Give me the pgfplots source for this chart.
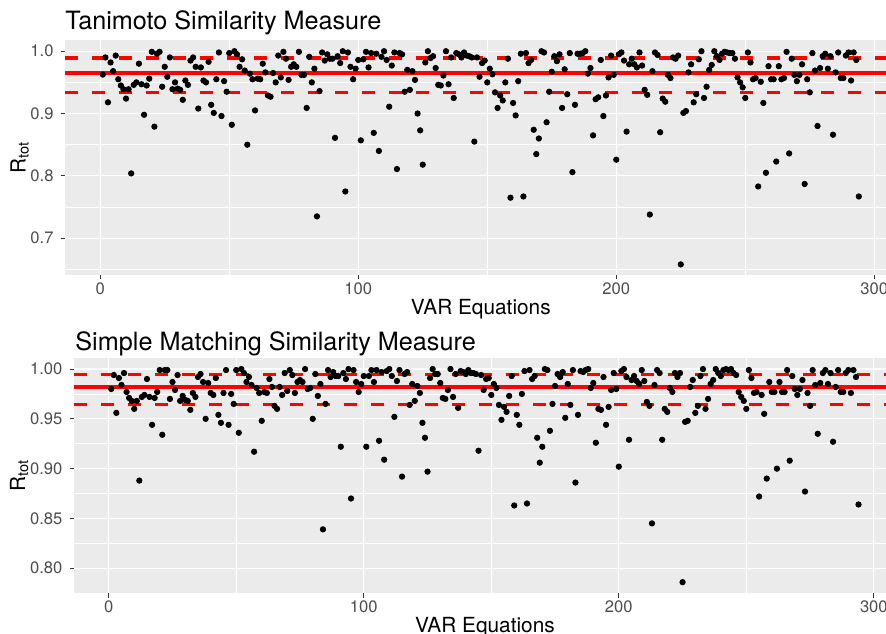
\documentclass[border=0pt]{standalone}
\usepackage{fontspec}
\setmainfont{TeX Gyre Heros}
\usepackage{pgfplots}
\usepackage{pgfplotstable}
\pgfplotsset{compat=1.18}

\definecolor{panelbg}{HTML}{EBEBEB}
\definecolor{ticklab}{HTML}{4D4D4D}
\definecolor{tickcol}{HTML}{333333}

% R_tot per VAR equation, Tanimoto measure
\pgfplotstableread[row sep=\\]{
x y\\
1 0.9625\\ 2 0.990\\ 3 0.918\\ 4 0.982\\ 5 0.968\\ 6 0.993\\ 7 0.955\\ 8 0.945\\ 9 0.939\\ 10 0.924\\
11 0.939\\ 12 0.804\\ 13 0.946\\ 14 0.950\\ 15 0.980\\ 16 0.947\\ 17 0.898\\ 18 0.945\\ 19 0.956\\ 20 0.999\\
21 0.879\\ 22 0.996\\ 23 0.999\\ 24 0.943\\ 25 0.975\\ 26 0.959\\ 27 0.990\\ 28 0.939\\ 29 0.950\\ 30 0.940\\
31 0.938\\ 32 0.922\\ 33 0.953\\ 34 0.946\\ 35 0.985\\ 36 0.990\\ 37 0.975\\ 38 0.908\\ 39 0.974\\ 40 0.953\\
41 0.950\\ 42 0.983\\ 43 0.914\\ 44 0.901\\ 45 0.955\\ 46 0.998\\ 47 0.896\\ 48 0.952\\ 49 0.935\\ 50 0.997\\
51 0.882\\ 52 1.000\\ 53 0.995\\ 54 0.975\\ 55 0.987\\ 56 0.969\\ 57 0.850\\ 58 0.964\\ 59 0.955\\ 60 0.905\\
61 0.956\\ 62 0.955\\ 63 0.980\\ 64 0.966\\ 65 0.929\\ 66 0.927\\ 67 0.965\\ 68 0.950\\ 69 0.993\\ 70 0.958\\
71 0.999\\ 72 0.988\\ 73 0.954\\ 74 0.975\\ 75 0.979\\ 76 0.975\\ 77 0.999\\ 78 0.962\\ 79 0.962\\ 80 0.909\\
81 0.991\\ 82 0.950\\ 83 0.972\\ 84 0.735\\ 85 0.936\\ 86 0.998\\ 87 0.985\\ 88 0.995\\ 89 0.988\\ 90 0.988\\
91 0.861\\ 92 0.992\\ 93 0.981\\ 94 1.000\\ 95 0.775\\ 96 0.998\\ 97 0.975\\ 98 0.955\\ 99 0.972\\ 100 0.986\\
101 0.857\\ 102 0.987\\ 103 0.999\\ 104 0.974\\ 105 0.997\\ 106 0.869\\ 107 0.996\\ 108 0.840\\ 109 0.991\\ 110 1.000\\
111 0.986\\ 112 0.911\\ 113 0.977\\ 114 0.998\\ 115 0.811\\ 116 0.997\\ 117 0.995\\ 118 0.935\\ 119 0.970\\ 120 0.938\\
121 0.968\\ 122 0.954\\ 123 0.900\\ 124 0.873\\ 125 0.818\\ 126 0.982\\ 127 1.000\\ 128 0.989\\ 129 0.992\\ 130 0.973\\
131 0.946\\ 132 0.945\\ 133 0.961\\ 134 1.000\\ 135 0.947\\ 136 0.990\\ 137 0.925\\ 138 0.997\\ 139 0.995\\ 140 0.990\\
141 0.998\\ 142 0.993\\ 143 0.992\\ 144 0.990\\ 145 0.855\\ 146 0.990\\ 147 0.959\\ 148 0.981\\ 149 0.985\\ 150 0.950\\
151 0.972\\ 152 0.963\\ 153 0.934\\ 154 0.909\\ 155 0.929\\ 156 0.921\\ 157 0.950\\ 158 0.988\\ 159 0.765\\ 160 0.917\\
161 0.897\\ 162 0.952\\ 163 0.996\\ 164 0.767\\ 165 0.997\\ 166 0.981\\ 167 0.986\\ 168 0.874\\ 169 0.835\\ 170 0.860\\
171 1.000\\ 172 0.998\\ 173 0.886\\ 174 0.935\\ 175 0.967\\ 176 0.992\\ 177 0.984\\ 178 0.995\\ 179 0.909\\ 180 0.971\\
181 0.931\\ 182 0.997\\ 183 0.806\\ 184 0.914\\ 185 0.996\\ 186 0.996\\ 187 0.997\\ 188 1.000\\ 189 0.964\\ 190 0.973\\
191 0.865\\ 192 0.923\\ 193 0.926\\ 194 0.986\\ 195 0.896\\ 196 0.929\\ 197 0.958\\ 198 0.993\\ 199 0.962\\ 200 0.826\\
201 0.995\\ 202 0.998\\ 203 0.985\\ 204 0.871\\ 205 0.979\\ 206 0.988\\ 207 0.979\\ 208 0.974\\ 209 0.998\\ 210 0.977\\
211 0.938\\ 212 0.930\\ 213 0.738\\ 214 0.968\\ 215 0.998\\ 216 0.994\\ 217 0.870\\ 218 0.924\\ 219 0.919\\ 220 0.962\\
221 0.957\\ 222 0.990\\ 223 0.988\\ 224 0.993\\ 225 0.658\\ 226 0.901\\ 227 0.904\\ 228 0.966\\ 229 0.979\\ 230 0.918\\
231 0.931\\ 232 0.987\\ 233 1.000\\ 234 0.925\\ 235 0.943\\ 236 0.970\\ 237 0.978\\ 238 1.000\\ 239 0.992\\ 240 0.986\\
241 0.996\\ 242 0.999\\ 243 0.998\\ 244 0.997\\ 245 0.997\\ 246 0.988\\ 247 0.958\\ 248 0.950\\ 249 0.942\\ 250 0.925\\
251 0.998\\ 252 0.982\\ 253 0.955\\ 254 0.957\\ 255 0.783\\ 256 0.951\\ 257 0.917\\ 258 0.805\\ 259 0.976\\ 260 0.955\\
261 0.955\\ 262 0.823\\ 263 0.976\\ 264 0.955\\ 265 0.957\\ 266 0.999\\ 267 0.836\\ 268 0.988\\ 269 0.962\\ 270 0.952\\
271 0.962\\ 272 0.979\\ 273 0.787\\ 274 0.955\\ 275 0.934\\ 276 0.997\\ 277 0.969\\ 278 0.880\\ 279 0.973\\ 280 0.992\\
281 0.996\\ 282 0.972\\ 283 0.992\\ 284 0.866\\ 285 0.966\\ 286 0.998\\ 287 0.957\\ 288 0.957\\ 289 0.993\\ 290 0.998\\
291 0.953\\ 292 0.998\\ 293 0.986\\ 294 0.767\\
}\tanimoto

% R_tot per VAR equation, simple matching measure
\pgfplotstableread[row sep=\\]{
x y\\
1 0.980\\ 2 0.994\\ 3 0.956\\ 4 0.991\\ 5 0.984\\ 6 0.996\\ 7 0.977\\ 8 0.971\\ 9 0.968\\ 10 0.960\\
11 0.968\\ 12 0.888\\ 13 0.972\\ 14 0.974\\ 15 0.990\\ 16 0.972\\ 17 0.944\\ 18 0.971\\ 19 0.977\\ 20 0.999\\
21 0.934\\ 22 0.999\\ 23 0.999\\ 24 0.970\\ 25 0.987\\ 26 0.979\\ 27 0.994\\ 28 0.968\\ 29 0.973\\ 30 0.969\\
31 0.968\\ 32 0.959\\ 33 0.976\\ 34 0.972\\ 35 0.992\\ 36 0.995\\ 37 0.987\\ 38 0.950\\ 39 0.986\\ 40 0.976\\
41 0.974\\ 42 0.991\\ 43 0.954\\ 44 0.946\\ 45 0.976\\ 46 0.999\\ 47 0.944\\ 48 0.975\\ 49 0.965\\ 50 0.999\\
51 0.936\\ 52 1.000\\ 53 0.996\\ 54 0.987\\ 55 0.992\\ 56 0.984\\ 57 0.917\\ 58 0.981\\ 59 0.976\\ 60 0.948\\
61 0.977\\ 62 0.976\\ 63 0.990\\ 64 0.982\\ 65 0.963\\ 66 0.960\\ 67 0.982\\ 68 0.974\\ 69 0.996\\ 70 0.978\\
71 0.999\\ 72 0.994\\ 73 0.976\\ 74 0.987\\ 75 0.989\\ 76 0.987\\ 77 1.000\\ 78 0.980\\ 79 0.981\\ 80 0.950\\
81 0.995\\ 82 0.973\\ 83 0.985\\ 84 0.839\\ 85 0.965\\ 86 0.999\\ 87 0.992\\ 88 0.997\\ 89 0.993\\ 90 0.993\\
91 0.922\\ 92 0.996\\ 93 0.990\\ 94 1.000\\ 95 0.870\\ 96 0.999\\ 97 0.987\\ 98 0.977\\ 99 0.985\\ 100 0.993\\
101 0.922\\ 102 0.993\\ 103 0.999\\ 104 0.987\\ 105 0.999\\ 106 0.928\\ 107 0.997\\ 108 0.909\\ 109 0.998\\ 110 1.000\\
111 0.993\\ 112 0.952\\ 113 0.988\\ 114 0.999\\ 115 0.892\\ 116 0.995\\ 117 0.997\\ 118 0.964\\ 119 0.985\\ 120 0.968\\
121 0.983\\ 122 0.976\\ 123 0.946\\ 124 0.931\\ 125 0.897\\ 126 0.991\\ 127 1.000\\ 128 0.995\\ 129 0.995\\ 130 0.986\\
131 0.971\\ 132 0.970\\ 133 0.979\\ 134 1.000\\ 135 0.972\\ 136 0.995\\ 137 0.961\\ 138 0.998\\ 139 0.997\\ 140 0.995\\
141 0.999\\ 142 0.996\\ 143 0.996\\ 144 0.995\\ 145 0.918\\ 146 0.994\\ 147 0.979\\ 148 0.990\\ 149 0.991\\ 150 0.974\\
151 0.985\\ 152 0.981\\ 153 0.964\\ 154 0.949\\ 155 0.962\\ 156 0.957\\ 157 0.973\\ 158 0.993\\ 159 0.863\\ 160 0.954\\
161 0.944\\ 162 0.975\\ 163 0.998\\ 164 0.865\\ 165 0.999\\ 166 0.990\\ 167 0.993\\ 168 0.931\\ 169 0.906\\ 170 0.922\\
171 1.000\\ 172 0.999\\ 173 0.938\\ 174 0.965\\ 175 0.983\\ 176 0.995\\ 177 0.992\\ 178 0.997\\ 179 0.951\\ 180 0.985\\
181 0.964\\ 182 0.999\\ 183 0.886\\ 184 0.954\\ 185 0.998\\ 186 0.997\\ 187 0.999\\ 188 1.000\\ 189 0.981\\ 190 0.986\\
191 0.926\\ 192 0.960\\ 193 0.959\\ 194 0.992\\ 195 0.944\\ 196 0.962\\ 197 0.979\\ 198 0.996\\ 199 0.980\\ 200 0.902\\
201 0.998\\ 202 1.000\\ 203 0.992\\ 204 0.929\\ 205 0.989\\ 206 0.993\\ 207 0.988\\ 208 0.985\\ 209 0.999\\ 210 0.988\\
211 0.967\\ 212 0.963\\ 213 0.845\\ 214 0.984\\ 215 0.999\\ 216 0.996\\ 217 0.929\\ 218 0.960\\ 219 0.957\\ 220 0.981\\
221 0.977\\ 222 0.996\\ 223 0.992\\ 224 0.996\\ 225 0.786\\ 226 0.947\\ 227 0.948\\ 228 0.982\\ 229 0.989\\ 230 0.956\\
231 0.963\\ 232 0.993\\ 233 1.000\\ 234 0.960\\ 235 0.970\\ 236 0.985\\ 237 0.989\\ 238 1.000\\ 239 0.996\\ 240 0.993\\
241 0.999\\ 242 1.000\\ 243 0.999\\ 244 1.000\\ 245 0.996\\ 246 0.994\\ 247 0.977\\ 248 0.972\\ 249 0.968\\ 250 0.960\\
251 0.999\\ 252 0.991\\ 253 0.976\\ 254 0.977\\ 255 0.872\\ 256 0.974\\ 257 0.955\\ 258 0.890\\ 259 0.987\\ 260 0.977\\
261 0.977\\ 262 0.900\\ 263 0.987\\ 264 0.977\\ 265 0.977\\ 266 0.999\\ 267 0.908\\ 268 0.993\\ 269 0.980\\ 270 0.974\\
271 0.980\\ 272 0.989\\ 273 0.877\\ 274 0.976\\ 275 0.963\\ 276 0.999\\ 277 0.984\\ 278 0.935\\ 279 0.986\\ 280 0.996\\
281 0.999\\ 282 0.985\\ 283 0.996\\ 284 0.927\\ 285 0.982\\ 286 0.999\\ 287 0.977\\ 288 0.977\\ 289 0.996\\ 290 0.999\\
291 0.976\\ 292 0.999\\ 293 0.992\\ 294 0.864\\
}\simplematch

\pgfplotsset{
  ggpanel/.style={
    scale only axis,
    height=117.5pt,
    xmin=-13.65, xmax=308.65,
    axis background/.style={fill=panelbg},
    axis line style={draw=none},
    grid=both,
    major grid style={white, line width=0.6pt},
    minor grid style={white, line width=0.3pt},
    xtick={0,100,200,300}, xticklabels={0,100,200,300},
    minor xtick={50,150,250},
    tick align=outside, xtick pos=lower, ytick pos=left,
    major tick length=2.2pt, minor tick length=0pt,
    tick style={tickcol, line width=0.5pt},
    tick label style={font=\fontsize{8.3}{10}\selectfont, text=ticklab},
    label style={font=\fontsize{10.4}{12}\selectfont},
    xlabel={VAR Equations},
    ylabel={R\textsubscript{tot}},
    xticklabel style={yshift=2pt},
    xlabel style={yshift=4.5pt},
    ylabel style={yshift=-6pt},
  },
  pts/.style={only marks, mark=*, mark size=1.35pt, black},
  meanline/.style={red, line width=2pt},
  sdline/.style={red, line width=1.6pt, dash pattern=on 6.5pt off 7pt},
}

\begin{document}
\begin{tikzpicture}
\path[use as bounding box] (0,0) rectangle (443pt,316.5pt);

\begin{axis}[ggpanel,
  at={(32.5pt,179pt)}, anchor=south west,
  width=415.8pt,
  ymin=0.641, ymax=1.018,
  ytick={0.7,0.8,0.9,1.0}, yticklabels={0.7,0.8,0.9,1.0},
  minor ytick={0.65,0.75,0.85,0.95},
]
\addplot[meanline] coordinates {(-13.65,0.9657) (308.65,0.9657)};
\addplot[sdline] coordinates {(-13.65,0.989) (308.65,0.989)};
\addplot[sdline] coordinates {(-13.65,0.934) (308.65,0.934)};
\addplot[pts] table[x=x, y=y] {\tanimoto};
\end{axis}

\begin{axis}[ggpanel,
  at={(36.95pt,19.95pt)}, anchor=south west,
  width=411pt,
  ymin=0.775, ymax=1.011,
  ytick={0.80,0.85,0.90,0.95,1.00}, yticklabels={0.80,0.85,0.90,0.95,1.00},
  minor ytick={0.775,0.825,0.875,0.925,0.975},
]
\addplot[meanline] coordinates {(-13.65,0.9822) (308.65,0.9822)};
\addplot[sdline] coordinates {(-13.65,0.9943) (308.65,0.9943)};
\addplot[sdline] coordinates {(-13.65,0.9648) (308.65,0.9648)};
\addplot[pts] table[x=x, y=y] {\simplematch};
\end{axis}

\node[anchor=base west, inner sep=0pt, font=\fontsize{12.6}{14}\selectfont] at (32.5pt,301.5pt) {Tanimoto Similarity Measure};
\node[anchor=base west, inner sep=0pt, font=\fontsize{12.6}{14}\selectfont] at (37.5pt,141.5pt) {Simple Matching Similarity Measure};
\end{tikzpicture}
\end{document}
